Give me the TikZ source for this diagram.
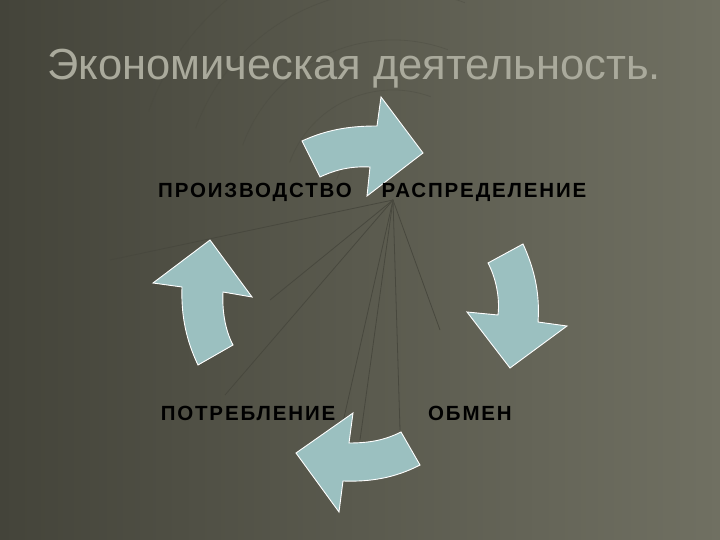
\documentclass[tikz,border=0pt]{standalone}
\usepackage{fontspec}
\setmainfont{Liberation Sans}
\begin{document}
\begin{tikzpicture}[x=1pt,y=-1pt,
  arr/.style={fill={rgb,255:red,155;green,192;blue,192},draw=white,line width=0.9pt,line join=miter},
  lbl/.style={font=\fontsize{20.5}{22}\selectfont\bfseries\addfontfeature{LetterSpace=9},text=black},
  web/.style={draw={rgb,255:red,72;green,72;blue,62},line width=0.8pt}]
\shade[left color={rgb,255:red,68;green,68;blue,58},right color={rgb,255:red,112;green,112;blue,98}] (0,0) rectangle (720,540);
\useasboundingbox (0,0) rectangle (720,540);
% faint web lines
\coordinate (c) at (393,200);
\foreach \p in {(110,260),(270,300),(225,395),(360,440),(400,430),(440,330),(330,480)}{\draw[web] (c) -- \p;}
\foreach \r in {60,110,160,210,260}{\draw[web,opacity=0.35] (393,200) ++(200:\r) arc[start angle=200,end angle=290,radius=\r];}
% title
\node[anchor=base west,text={rgb,255:red,170;green,170;blue,156},font=\fontsize{43.5}{46}\selectfont,inner sep=0] (title) at (47,80) {Экономическая деятельность.};
% arrows
\draw[arr] (302,141) .. controls (330,128) and (355,126) .. (377,126) -- (381,97) -- (423,153) -- (367,196) -- (370,167) .. controls (350,166) and (335,170) .. (320,177) -- cycle;
\draw[arr] (488,263) -- (523,244) .. controls (535,270) and (540,295) .. (538,322) -- (567,326) -- (510,368) -- (467,312) -- (498,315) .. controls (500,298) and (496,278) .. (488,263) -- cycle;
\draw[arr] (401,432) -- (420,465) .. controls (395,478) and (370,482) .. (343,481) -- (339,512) -- (296,453) -- (353,413) -- (349,443) .. controls (370,443) and (385,440) .. (401,432) -- cycle;
\draw[arr] (198,365) .. controls (186,340) and (181,315) .. (182,287) -- (153,283) -- (210,240) -- (252,297) -- (223,292) .. controls (222,310) and (225,330) .. (233,345) -- cycle;
% labels
\node[lbl] (p1) at (255,192) {ПРОИЗВОДСТВО};
\node[lbl] (p2) at (484,192) {РАСПРЕДЕЛЕНИЕ};
\node[lbl] (p3) at (248,413) {ПОТРЕБЛЕНИЕ};
\node[lbl] (p4) at (470,413) {ОБМЕН};
\end{tikzpicture}
\end{document}
